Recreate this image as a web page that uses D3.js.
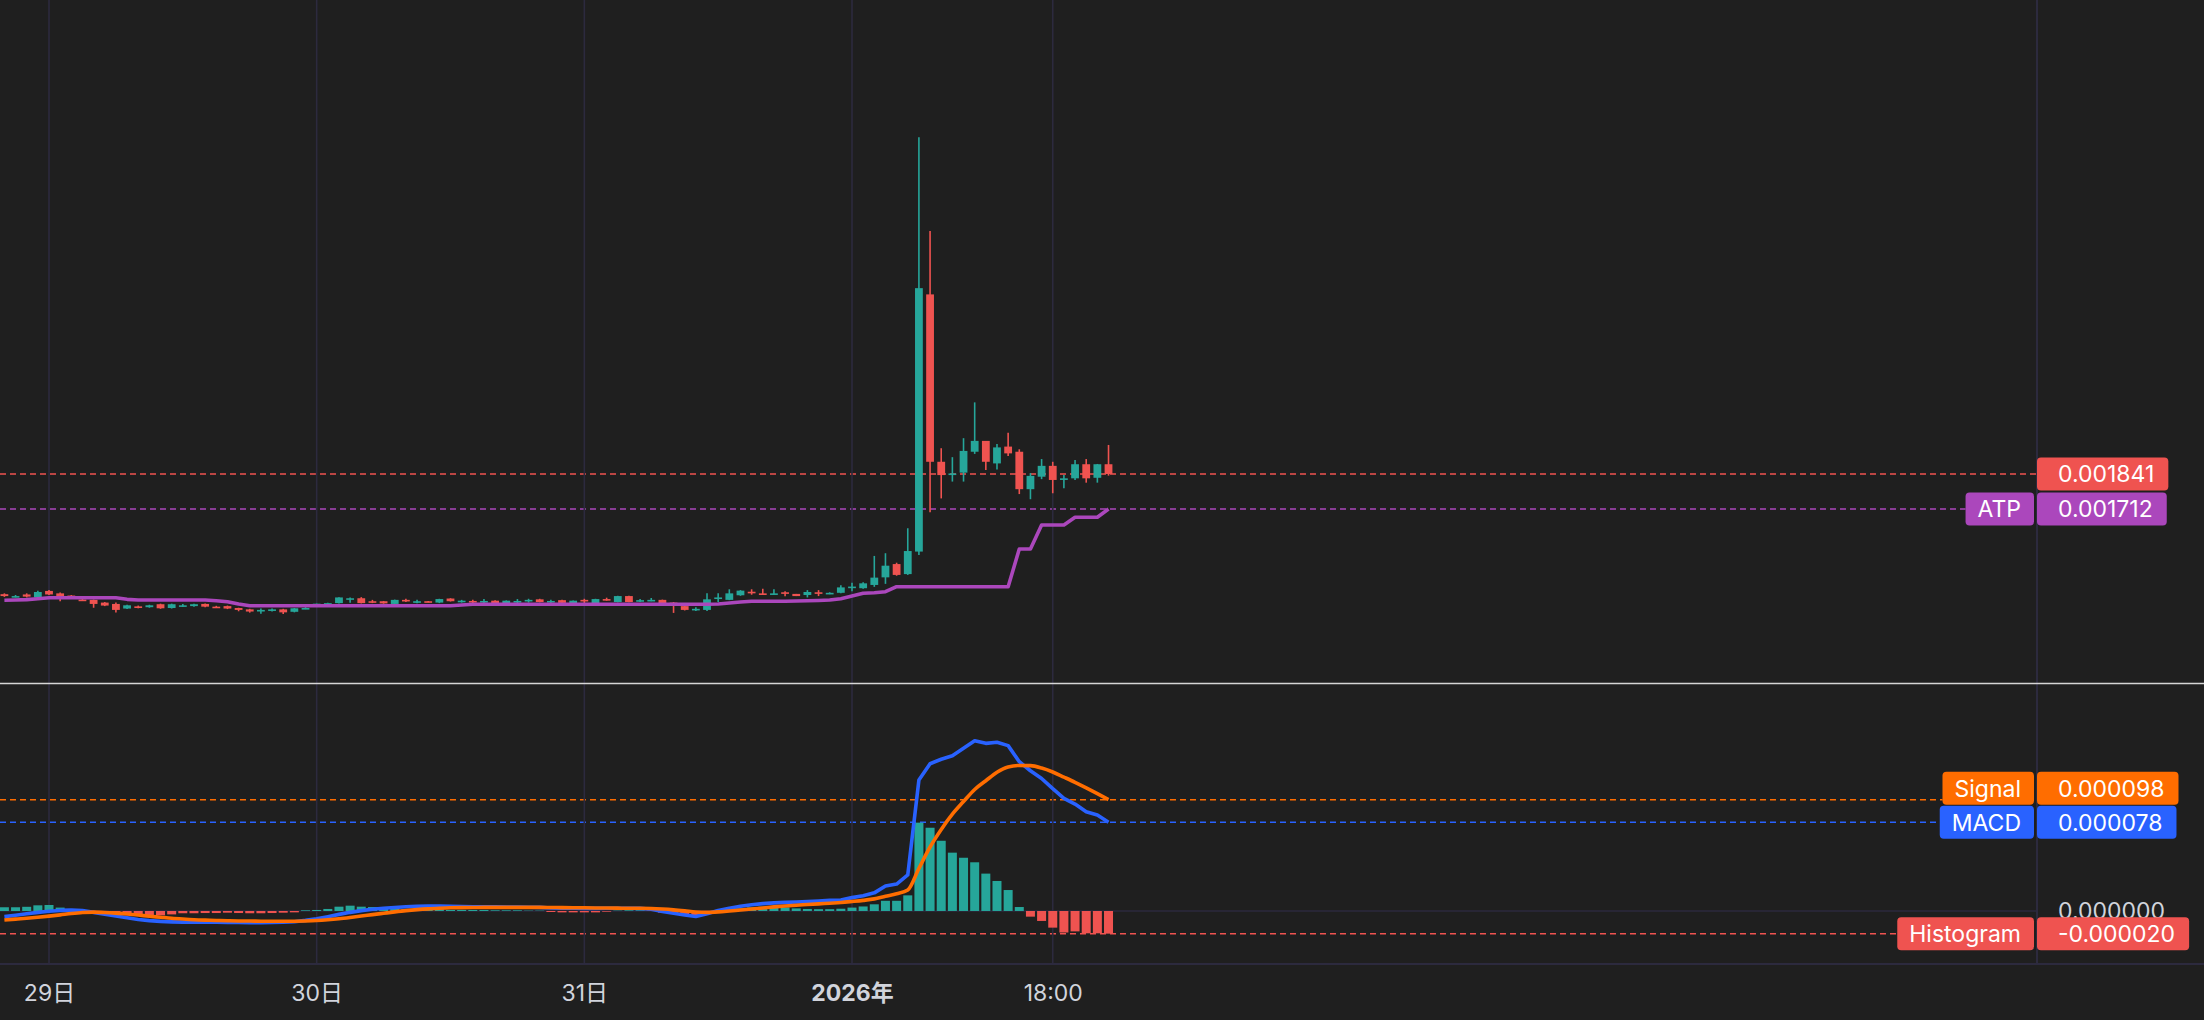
<!DOCTYPE html>
<html><head><meta charset="utf-8">
<script src="https://cdn.jsdelivr.net/npm/d3@7"></script>
<style>
html,body{margin:0;padding:0;background:#1f1f1f;overflow:hidden}
svg{display:block}
text{font-family:Inter,"Noto Sans CJK JP","Noto Sans",sans-serif}
</style></head><body>
<svg id="c" width="2204" height="1020"></svg>
<script>
// ---------- DATA ----------
const startTime = Date.UTC(2025, 11, 28, 20); // first hourly candle
const opens = [0.001398,0.001390,0.001397,0.001386,0.001410,0.001401,0.001393,0.001378,0.001377,0.001367,
0.001362,0.001345,0.001353,0.001350,0.001361,0.001347,0.001354,0.001354,0.001362,0.001352,
0.001354,0.001347,0.001342,0.001337,0.001340,0.001342,0.001333,0.001344,0.001358,0.001364,
0.001365,0.001382,0.001383,0.001372,0.001372,0.001362,0.001377,0.001369,0.001372,0.001367,
0.001382,0.001372,0.001373,0.001371,0.001374,0.001365,0.001371,0.001374,0.001379,0.001371,
0.001376,0.001365,0.001377,0.001365,0.001380,0.001369,0.001391,0.001373,0.001374,0.001377,
0.001367,0.001354,0.001343,0.001340,0.001384,0.001377,0.001394,0.001407,0.001401,0.001396,
0.001405,0.001399,0.001395,0.001405,0.001399,0.001403,0.001422,0.001420,0.001432,0.001460,
0.001509,0.001472,0.001555,0.002503,0.001886,0.001837,0.001846,0.001923,0.001963,0.001880,
0.001942,0.001923,0.001785,0.001831,0.001871,0.001819,0.001825,0.001877,0.001827,0.001877];
const highs = [0.001401,0.001395,0.001401,0.001411,0.001413,0.001404,0.001395,0.001380,0.001378,0.001369,
0.001367,0.001359,0.001356,0.001359,0.001363,0.001363,0.001362,0.001363,0.001364,0.001355,
0.001356,0.001348,0.001344,0.001345,0.001345,0.001344,0.001347,0.001350,0.001363,0.001366,
0.001387,0.001386,0.001387,0.001377,0.001373,0.001378,0.001381,0.001377,0.001373,0.001381,
0.001383,0.001377,0.001377,0.001380,0.001376,0.001375,0.001380,0.001381,0.001381,0.001377,
0.001377,0.001375,0.001381,0.001381,0.001385,0.001392,0.001392,0.001380,0.001384,0.001378,
0.001369,0.001355,0.001350,0.001401,0.001401,0.001416,0.001413,0.001416,0.001418,0.001416,
0.001409,0.001399,0.001413,0.001413,0.001405,0.001431,0.001440,0.001442,0.001539,0.001549,
0.001514,0.001641,0.003082,0.002737,0.001936,0.001903,0.001973,0.002105,0.001963,0.001952,
0.001993,0.001932,0.001844,0.001896,0.001886,0.001837,0.001893,0.001896,0.001878,0.001948];
const lows = [0.001388,0.001386,0.001386,0.001384,0.001395,0.001372,0.001389,0.001374,0.001348,0.001354,
0.001330,0.001343,0.001346,0.001348,0.001344,0.001345,0.001351,0.001352,0.001350,0.001347,
0.001343,0.001335,0.001330,0.001326,0.001334,0.001325,0.001331,0.001343,0.001356,0.001363,
0.001364,0.001366,0.001364,0.001365,0.001363,0.001361,0.001369,0.001365,0.001368,0.001365,
0.001371,0.001367,0.001365,0.001365,0.001364,0.001364,0.001365,0.001367,0.001368,0.001365,
0.001365,0.001364,0.001365,0.001364,0.001374,0.001368,0.001368,0.001369,0.001372,0.001364,
0.001329,0.001338,0.001336,0.001336,0.001369,0.001376,0.001392,0.001396,0.001395,0.001395,
0.001390,0.001391,0.001386,0.001391,0.001398,0.001401,0.001409,0.001418,0.001425,0.001436,
0.001466,0.001469,0.001542,0.001700,0.001751,0.001813,0.001813,0.001915,0.001856,0.001858,
0.001907,0.001767,0.001748,0.001822,0.001770,0.001788,0.001819,0.001809,0.001809,0.001835];
const closes = [0.001391,0.001391,0.001389,0.001406,0.001397,0.001391,0.001391,0.001377,0.001362,0.001356,
0.001340,0.001357,0.001351,0.001357,0.001346,0.001361,0.001357,0.001361,0.001352,0.001350,
0.001345,0.001340,0.001334,0.001340,0.001342,0.001331,0.001346,0.001347,0.001363,0.001365,
0.001386,0.001383,0.001365,0.001369,0.001364,0.001377,0.001374,0.001372,0.001369,0.001380,
0.001372,0.001374,0.001369,0.001373,0.001365,0.001374,0.001373,0.001377,0.001369,0.001373,
0.001366,0.001374,0.001373,0.001380,0.001377,0.001391,0.001369,0.001376,0.001377,0.001365,
0.001358,0.001340,0.001344,0.001379,0.001386,0.001401,0.001411,0.001403,0.001395,0.001401,
0.001401,0.001391,0.001406,0.001401,0.001403,0.001423,0.001426,0.001438,0.001459,0.001503,
0.001469,0.001557,0.002526,0.001886,0.001837,0.001843,0.001926,0.001963,0.001886,0.001939,
0.001917,0.001785,0.001834,0.001871,0.001819,0.001825,0.001877,0.001825,0.001877,0.001841];
const atp = [0.0013755,0.0013766,0.0013779,0.0013814,0.001385,0.001385,0.001385,0.001385,0.001385,0.001385,
0.001385,0.001379,0.0013766,0.0013766,0.0013766,0.0013766,0.0013766,0.0013766,0.0013766,0.001374,
0.0013703,0.0013618,0.0013556,0.0013556,0.0013556,0.0013556,0.0013556,0.0013556,0.0013556,0.0013556,
0.0013556,0.0013556,0.0013556,0.0013556,0.0013556,0.0013556,0.0013556,0.0013556,0.0013556,0.0013556,
0.0013556,0.001358,0.0013607,0.0013607,0.0013607,0.0013607,0.0013607,0.0013607,0.0013607,0.0013607,
0.0013607,0.0013607,0.0013607,0.0013607,0.0013607,0.0013607,0.0013607,0.0013607,0.0013607,0.0013607,
0.0013607,0.0013607,0.0013607,0.0013607,0.0013618,0.0013655,0.0013692,0.0013718,0.0013718,0.0013718,
0.0013718,0.0013729,0.0013736,0.0013747,0.0013766,0.0013814,0.0013913,0.0014013,0.0014035,0.001407,
0.0014256,0.0014256,0.0014256,0.0014256,0.0014256,0.0014256,0.0014256,0.0014256,0.0014256,0.0014256,
0.0014256,0.0015646,0.0015646,0.001653,0.001653,0.001653,0.0016814,0.0016814,0.0016814,0.001712];
// MACD pane values in millionths (x 1e-6)
const macd = [-5,-3.8,-2.5,-1.2,-0.2,0.5,0.8,0.4,-1.2,-2.8,
-4.5,-6,-7.5,-8.5,-9.2,-9.6,-9.8,-10,-10,-10,
-10.1,-10.2,-10.3,-10.3,-10.2,-10,-9.5,-8.3,-6.8,-5,
-3,-1.2,0.3,1.5,2.4,3.1,3.7,4.1,4.3,4.3,
4.2,4.0,3.8,3.7,3.6,3.5,3.4,3.3,3.2,2.7,
2.5,2.4,2.3,2.3,2.4,2.4,2.4,2.3,1.5,-0.5,
-2,-3.5,-4.8,-2.5,0.5,2.5,4.2,5.5,6.5,7.2,
7.6,8,8.3,8.8,9.4,9.7,11.8,13.5,16,22,
23.8,31.8,115.6,130,134,137,143.6,150.3,148,149,
146,131.8,123.8,117,108,99.5,94.4,87.6,84.7,78.3];
const signal = [-8,-7.2,-6.4,-5.5,-4.5,-3.4,-2.2,-1.3,-1,-1.3,
-1.9,-2.7,-3.6,-4.6,-5.5,-6.4,-7.1,-7.7,-8.1,-8.4,
-8.6,-8.8,-8.9,-9,-9.1,-9.1,-9,-8.8,-8.4,-7.7,
-6.8,-5.7,-4.5,-3.2,-2,-0.8,0.3,1.2,1.9,2.4,
2.8,3,3.1,3.2,3.2,3.2,3.2,3.2,3.2,3.1,
3,2.9,2.8,2.7,2.6,2.5,2.4,2.4,2.2,1.7,
1,0.1,-0.9,-1.2,-0.8,0,0.9,1.8,2.7,3.6,
4.4,5.1,5.7,6.3,6.9,7.5,8.4,9.4,10.7,13,
15.2,18.5,37.6,56.5,72,85.5,96.6,107.3,115,122.5,
127.2,128.5,128.3,126.2,122.7,118.2,113.6,108.7,103.6,98.3];
const hist = [3.3,3.3,3.7,5,5.3,3,1.5,0.3,-2,-2,
-3,-3.5,-4,-3.8,-3.8,-3,-2,-2,-1.8,-1.8,
-1.5,-1.8,-2,-2,-1.8,-1.5,-1.2,0.6,0.9,1.8,
3.8,4.7,3.8,3.5,3,2.3,1.8,1.5,1.6,1.5,
0.9,0.9,0.9,0.9,0.6,0.6,0.6,0.3,0.3,-0.9,
-1.2,-1.2,-1.2,-1.2,-0.6,0.3,0.6,0.6,0.3,-1.5,
-2,-3.5,-4.5,-1.5,0.3,0.9,2.3,3.2,3.8,3.8,
3.2,2.3,1.8,1.6,1.6,2,3,4,5.9,9,
9,13.8,78,73.5,62,51.5,47,43,33,26.5,
18.5,3.5,-5,-8.8,-14.7,-19,-18,-19.7,-19.7,-20];
const tickTimes = [Date.UTC(2025,11,29), Date.UTC(2025,11,30), Date.UTC(2025,11,31), Date.UTC(2026,0,1), Date.UTC(2026,0,1,18)];
const tickLabels = ["29日","30日","31日","2026年","18:00"];
const boldTick = [false,false,false,true,false];

// ---------- LAYOUT ----------
const W = 2204, H = 1020;
const AXX = 2037;             // price-axis boundary
const MAIN_B = 683, MACD_T = 684, MACD_B = 964;
const UP = "#26a69a", DOWN = "#ef5350", ATPC = "#ab47bc", BLUE = "#2962ff", ORANGE = "#ff6d00";
const GRID = "#2c2a3e", TXT = "#d1d4dc";
const FS = 23;

const N = closes.length;
const times = d3.range(N).map(i => new Date(startTime + i * 3600e3));

const x = d3.scaleUtc().domain([new Date(tickTimes[0]), new Date(tickTimes[3])]).range([49, 852]);
const y = d3.scaleLinear().domain([0.0010706, 0.0035881]).range([MAIN_B, 0]);
const ym = d3.scaleLinear().domain([-46.8, 200.4]).range([MACD_B, MACD_T]);

const svg = d3.select("#c");
svg.append("rect").attr("width", W).attr("height", H).attr("fill", "#1f1f1f");
const defs = svg.append("defs");
defs.append("clipPath").attr("id", "cm").append("rect").attr("x", 0).attr("y", 0).attr("width", AXX - 1).attr("height", MAIN_B);
defs.append("clipPath").attr("id", "cd").append("rect").attr("x", 0).attr("y", MACD_T).attr("width", AXX - 1).attr("height", MACD_B - MACD_T);

// grid
svg.append("g").selectAll("line").data(tickTimes).join("line")
  .attr("x1", d => x(d)).attr("x2", d => x(d)).attr("y1", 0).attr("y2", MACD_B)
  .attr("stroke", GRID).attr("stroke-width", 1.6);
// zero line in MACD pane
svg.append("line").attr("x1", 0).attr("x2", AXX).attr("y1", ym(0)).attr("y2", ym(0))
  .attr("stroke", GRID).attr("stroke-width", 1.6);
// axis borders
svg.append("line").attr("x1", AXX).attr("x2", AXX).attr("y1", 0).attr("y2", MACD_B)
  .attr("stroke", GRID).attr("stroke-width", 2);
svg.append("line").attr("x1", 0).attr("x2", W).attr("y1", MACD_B).attr("y2", MACD_B)
  .attr("stroke", GRID).attr("stroke-width", 2);

const fmt = v => v.toFixed(6);
const last = N - 1;

// ---------- MAIN PANE ----------
const gm = svg.append("g").attr("clip-path", "url(#cm)");
const idx = d3.range(N);
const cg = gm.append("g");
cg.selectAll("line").data(idx).join("line")
  .attr("x1", i => x(times[i])).attr("x2", i => x(times[i]))
  .attr("y1", i => y(highs[i])).attr("y2", i => y(lows[i]))
  .attr("stroke", i => closes[i] >= opens[i] ? UP : DOWN).attr("stroke-width", 1.6);
cg.selectAll("rect").data(idx).join("rect")
  .attr("x", i => x(times[i]) - 3.9).attr("width", 7.8)
  .attr("y", i => y(Math.max(opens[i], closes[i])))
  .attr("height", i => Math.max(1.6, Math.abs(y(opens[i]) - y(closes[i]))))
  .attr("fill", i => closes[i] >= opens[i] ? UP : DOWN);
gm.append("path").datum(idx)
  .attr("d", d3.line().x(i => x(times[i])).y(i => y(atp[i])))
  .attr("fill", "none").attr("stroke", ATPC).attr("stroke-width", 3.6).attr("stroke-linejoin", "round");

// separator
svg.append("line").attr("x1", 0).attr("x2", W).attr("y1", MAIN_B + 0.5).attr("y2", MAIN_B + 0.5)
  .attr("stroke", "#d6d6d6").attr("stroke-width", 1.5);

// ---------- MACD PANE ----------
const gd = svg.append("g").attr("clip-path", "url(#cd)");
gd.append("g").selectAll("rect").data(idx).join("rect")
  .attr("x", i => x(times[i]) - 4.5).attr("width", 9)
  .attr("y", i => Math.min(ym(0), ym(hist[i])))
  .attr("height", i => Math.abs(ym(hist[i]) - ym(0)))
  .attr("fill", i => hist[i] >= 0 ? UP : DOWN);
gd.append("path").datum(idx)
  .attr("d", d3.line().x(i => x(times[i])).y(i => ym(macd[i])))
  .attr("fill", "none").attr("stroke", BLUE).attr("stroke-width", 3.6).attr("stroke-linejoin", "round");
gd.append("path").datum(idx)
  .attr("d", d3.line().curve(d3.curveMonotoneX).x(i => x(times[i])).y(i => ym(signal[i])))
  .attr("fill", "none").attr("stroke", ORANGE).attr("stroke-width", 3.6).attr("stroke-linejoin", "round");

// zero label (partly hidden behind the Histogram badge, as in the original)
svg.append("text").attr("x", 2058).attr("y", ym(0)).attr("dy", "0.36em")
  .attr("font-size", FS).attr("fill", TXT).text(fmt(0));

// ---------- BADGES ----------
const BH = 33;
const lineLayer = svg.insert("g", "g");
function badge(lineY, cy, value, color, label) {
  const g = svg.append("g");
  const vt = g.append("text").attr("x", 2058).attr("y", cy).attr("dy", "0.36em")
    .attr("font-size", FS).attr("fill", "#ffffff").text(value);
  const vw = vt.node().getComputedTextLength();
  g.insert("rect", "text").attr("x", AXX).attr("y", cy - BH / 2).attr("width", 2058 + vw + 14 - AXX).attr("height", BH)
    .attr("rx", 4).attr("fill", color);
  let lineEnd = AXX;
  if (label) {
    const lt = g.append("text").attr("x", 2021).attr("y", cy).attr("dy", "0.36em").attr("text-anchor", "end")
      .attr("font-size", FS).attr("fill", "#ffffff").text(label);
    const lw = lt.node().getComputedTextLength();
    const lx = 2021 - lw - 12;
    g.insert("rect", "text").attr("x", lx).attr("y", cy - BH / 2).attr("width", 2034 - lx).attr("height", BH)
      .attr("rx", 4).attr("fill", color);
    lineEnd = lx;
  }
  lineLayer.append("line").attr("x1", 0).attr("x2", lineEnd).attr("y1", lineY).attr("y2", lineY)
    .attr("stroke", color).attr("stroke-width", 1.5).attr("stroke-dasharray", "6,4");
}
badge(y(closes[last]), y(closes[last]), fmt(closes[last]), DOWN, null);
badge(y(atp[last]), y(atp[last]), fmt(atp[last]), ATPC, "ATP");
const yMacdL = ym(macd[last]), ySigL = ym(signal[last]);
const ySigBadge = Math.min(ySigL, yMacdL - BH - 1);
badge(ySigL, ySigBadge, fmt(signal[last] * 1e-6), ORANGE, "Signal");
badge(yMacdL, yMacdL, fmt(macd[last] * 1e-6), BLUE, "MACD");
badge(ym(hist[last]), ym(hist[last]), fmt(hist[last] * 1e-6), DOWN, "Histogram");

// ---------- TIME AXIS ----------
const ax = svg.append("g").attr("transform", `translate(0,${MACD_B})`)
  .call(d3.axisBottom(x).tickValues(tickTimes.map(t => new Date(t))).tickSize(0)
    .tickFormat((d, i) => tickLabels[i]));
ax.select(".domain").remove();
ax.selectAll("text").attr("y", 29).attr("dy", "0.36em").attr("font-size", FS).attr("fill", TXT)
  .attr("font-family", "Inter, 'Noto Sans CJK JP', sans-serif")
  .attr("font-weight", (d, i) => boldTick[i] ? 700 : 400);
</script>
</body></html>
